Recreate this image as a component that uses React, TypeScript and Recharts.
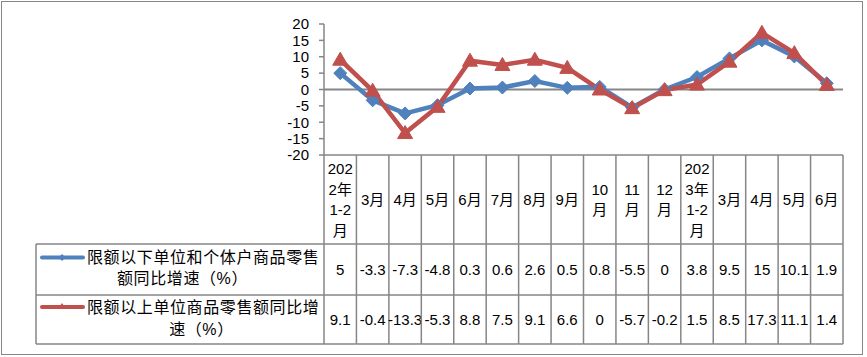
import { Line, LineChart, ReferenceLine, XAxis, YAxis } from 'recharts';

const categories = [
  '2022年1-2月', '3月', '4月', '5月', '6月', '7月', '8月', '9月',
  '10月', '11月', '12月', '2023年1-2月', '3月', '4月', '5月', '6月',
];

// how each category label wraps inside its column
const headerLines = [
  ['202', '2年', '1-2', '月'], ['3月'], ['4月'], ['5月'], ['6月'], ['7月'], ['8月'], ['9月'],
  ['10', '月'], ['11', '月'], ['12', '月'], ['202', '3年', '1-2', '月'], ['3月'], ['4月'], ['5月'], ['6月'],
];

const belowLimit = [5, -3.3, -7.3, -4.8, 0.3, 0.6, 2.6, 0.5, 0.8, -5.5, 0, 3.8, 9.5, 15, 10.1, 1.9];
const aboveLimit = [9.1, -0.4, -13.3, -5.3, 8.8, 7.5, 9.1, 6.6, 0, -5.7, -0.2, 1.5, 8.5, 17.3, 11.1, 1.4];

const belowName = ['限额以下单位和个体户商品零售', '额同比增速（%）'];
const aboveName = ['限额以上单位商品零售额同比增', '速（%）'];

const yTicks = [-20, -15, -10, -5, 0, 5, 10, 15, 20];

const data = categories.map((name, i) => ({
  name: `${i}`,
  label: name,
  below: belowLimit[i],
  above: aboveLimit[i],
}));

const W = 867;
const H = 357;
const PLOT_LEFT = 324;
const PLOT_RIGHT = 843;
const PLOT_TOP = 24;
const PLOT_BOTTOM = 155;
const TABLE_BOTTOM = 344;
const ROW1_TOP = 244;
const ROW2_TOP = 295;
const LEGEND_LEFT = 36;
const COL_W = (PLOT_RIGHT - PLOT_LEFT) / categories.length;

const BLUE = '#4F81BD';
const RED = '#C0504D';
const GRID = '#868686';
const FONT = "'Liberation Sans', 'Noto Sans CJK SC', sans-serif";

const Diamond = (props: any) => {
  const { cx, cy } = props;
  if (cx == null || cy == null) return null;
  const r = 6.5;
  return (
    <path
      d={`M${cx},${cy - r}L${cx + r},${cy}L${cx},${cy + r}L${cx - r},${cy}Z`}
      fill={BLUE}
      stroke={BLUE}
    />
  );
};

const Triangle = (props: any) => {
  const { cx, cy } = props;
  if (cx == null || cy == null) return null;
  return (
    <path
      d={`M${cx},${cy - 7.5}L${cx + 7.5},${cy + 5.5}L${cx - 7.5},${cy + 5.5}Z`}
      fill={RED}
      stroke={RED}
    />
  );
};

const LegendKey = ({ y, color, kind }: { y: number; color: string; kind: 'diamond' | 'triangle' }) => (
  <g>
    <line x1={42} x2={83} y1={y} y2={y} stroke={color} strokeWidth={4} strokeLinecap="round" />
    {kind === 'diamond' ? (
      <path d={`M62,${y - 3.5}L65.5,${y}L62,${y + 3.5}L58.5,${y}Z`} fill={color} />
    ) : (
      <path d={`M62,${y - 4}L66,${y + 2}L58,${y + 2}Z`} fill={color} />
    )}
  </g>
);

const TableTick = (props: any) => {
  const { x, payload } = props;
  const i = Number(payload.value);
  const left = x - COL_W / 2;
  const right = x + COL_W / 2;
  const lines = headerLines[i];
  const headerMid = (PLOT_BOTTOM + ROW1_TOP) / 2;
  const lh = 20.5;
  const fmt = (v: number) => `${v}`;
  return (
    <g fontFamily={FONT} fontSize={15} fill="#000">
      {lines.map((t, k) => (
        <text
          key={k}
          x={x}
          y={headerMid + (k - (lines.length - 1) / 2) * lh}
          textAnchor="middle"
          dominantBaseline="central"
        >
          {t}
        </text>
      ))}
      <text x={x} y={(ROW1_TOP + ROW2_TOP) / 2} textAnchor="middle" dominantBaseline="central">
        {fmt(belowLimit[i])}
      </text>
      <text x={x} y={(ROW2_TOP + TABLE_BOTTOM) / 2} textAnchor="middle" dominantBaseline="central">
        {fmt(aboveLimit[i])}
      </text>
      <g stroke={GRID} strokeWidth={1.5}>
        <line x1={right} x2={right} y1={PLOT_BOTTOM} y2={TABLE_BOTTOM} />
        {i === 0 && <line x1={left} x2={left} y1={PLOT_BOTTOM} y2={TABLE_BOTTOM} />}
        <line x1={i === 0 ? LEGEND_LEFT : left} x2={right} y1={ROW1_TOP} y2={ROW1_TOP} />
        <line x1={i === 0 ? LEGEND_LEFT : left} x2={right} y1={ROW2_TOP} y2={ROW2_TOP} />
        <line x1={i === 0 ? LEGEND_LEFT : left} x2={right} y1={TABLE_BOTTOM} y2={TABLE_BOTTOM} />
        {i === 0 && <line x1={LEGEND_LEFT} x2={LEGEND_LEFT} y1={ROW1_TOP} y2={TABLE_BOTTOM} />}
      </g>
      {i === 0 && (
        <g fontSize={16}>
          <LegendKey y={257.5} color={BLUE} kind="diamond" />
          <text x={87} y={257.5} dominantBaseline="central" letterSpacing={0.6}>
            {belowName[0]}
          </text>
          <text x={182.5} y={278.5} dominantBaseline="central" textAnchor="middle" letterSpacing={0.6}>
            {belowName[1]}
          </text>
          <LegendKey y={307} color={RED} kind="triangle" />
          <text x={87} y={307} dominantBaseline="central" letterSpacing={0.6}>
            {aboveName[0]}
          </text>
          <text x={201.5} y={329} dominantBaseline="central" textAnchor="middle" letterSpacing={0.6}>
            {aboveName[1]}
          </text>
        </g>
      )}
    </g>
  );
};

export default function App() {
  return (
    <div style={{ position: 'absolute', left: 0, top: 0, width: W, height: H, background: '#fff' }}>
      <LineChart
        width={W}
        height={H}
        data={data}
        margin={{ top: PLOT_TOP, right: W - PLOT_RIGHT, left: 0, bottom: H - TABLE_BOTTOM }}
      >
        <XAxis
          dataKey="name"
          type="category"
          height={TABLE_BOTTOM - PLOT_BOTTOM}
          padding={{ left: COL_W / 2, right: COL_W / 2 }}
          axisLine={{ stroke: GRID, strokeWidth: 1.5 }}
          tickLine={false}
          tickSize={0}
          tickMargin={0}
          interval={0}
          tick={<TableTick />}
        />
        <YAxis
          width={PLOT_LEFT}
          domain={[-20, 20]}
          ticks={yTicks}
          interval={0}
          tickSize={5}
          tickMargin={10}
          axisLine={{ stroke: GRID, strokeWidth: 1.5 }}
          tickLine={{ stroke: GRID, strokeWidth: 1.5 }}
          tick={{ fill: '#000', fontSize: 15, fontFamily: FONT }}
        />
        <ReferenceLine y={0} stroke={GRID} strokeWidth={2} />
        <Line
          dataKey="below"
          stroke={BLUE}
          strokeWidth={4.5}
          dot={<Diamond />}
          activeDot={false}
          isAnimationActive={false}
        />
        <Line
          dataKey="above"
          stroke={RED}
          strokeWidth={4.5}
          dot={<Triangle />}
          activeDot={false}
          isAnimationActive={false}
        />
      </LineChart>
      <div
        style={{
          position: 'absolute',
          left: 1,
          top: 1,
          width: 862,
          height: 354,
          border: `1.5px solid ${GRID}`,
          boxSizing: 'border-box',
          pointerEvents: 'none',
        }}
      />
    </div>
  );
}
